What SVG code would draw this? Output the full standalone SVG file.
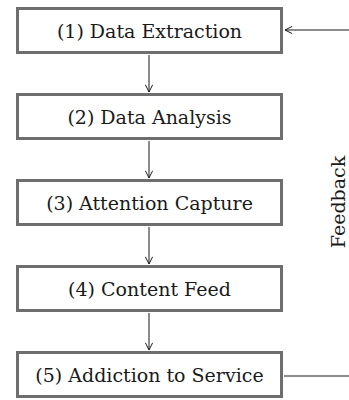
<svg xmlns="http://www.w3.org/2000/svg" width="349" height="400" viewBox="0 0 349 400">
<style>
.box{fill:#fff;stroke:#6e6e6e;stroke-width:3}
.lbl{font-family:"DejaVu Serif","Liberation Serif",serif;font-size:19px;fill:#1a1a1a;text-anchor:middle}
.ln{fill:none;stroke:#1a1a1a;stroke-width:1}
</style>
<defs>
<marker id="ah" viewBox="0 0 10 10" refX="9" refY="5" markerWidth="9" markerHeight="9" markerUnits="userSpaceOnUse" orient="auto">
<path d="M1,1 L9,5 L1,9" fill="none" stroke="#1a1a1a" stroke-width="1.1"/>
</marker>
</defs>
<rect width="349" height="400" fill="#fff"/>
<g id="connectors">
<line class="ln" x1="149" y1="55" x2="149" y2="92" marker-end="url(#ah)"/>
<line class="ln" x1="149" y1="141" x2="149" y2="178" marker-end="url(#ah)"/>
<line class="ln" x1="149" y1="227" x2="149" y2="264" marker-end="url(#ah)"/>
<line class="ln" x1="149" y1="313" x2="149" y2="350" marker-end="url(#ah)"/>
<line class="ln" x1="284" y1="376" x2="349" y2="376"/>
<line class="ln" x1="349" y1="30" x2="285" y2="30" marker-end="url(#ah)"/>
<text class="lbl" transform="translate(344.5,202) rotate(-90)">Feedback</text>
</g>
<g id="n1"><rect class="box" x="17.5" y="8.5" width="264" height="44"/><text class="lbl" x="149.5" y="37.5">(1) Data Extraction</text></g>
<g id="n2"><rect class="box" x="17.5" y="94.5" width="264" height="44"/><text class="lbl" x="149.5" y="123.5">(2) Data Analysis</text></g>
<g id="n3"><rect class="box" x="17.5" y="180.5" width="264" height="44"/><text class="lbl" x="149.5" y="209.5">(3) Attention Capture</text></g>
<g id="n4"><rect class="box" x="17.5" y="266.5" width="264" height="44"/><text class="lbl" x="149.5" y="295.5">(4) Content Feed</text></g>
<g id="n5"><rect class="box" x="17.5" y="352.5" width="264" height="44"/><text class="lbl" x="149.5" y="381.5">(5) Addiction to Service</text></g>
</svg>
